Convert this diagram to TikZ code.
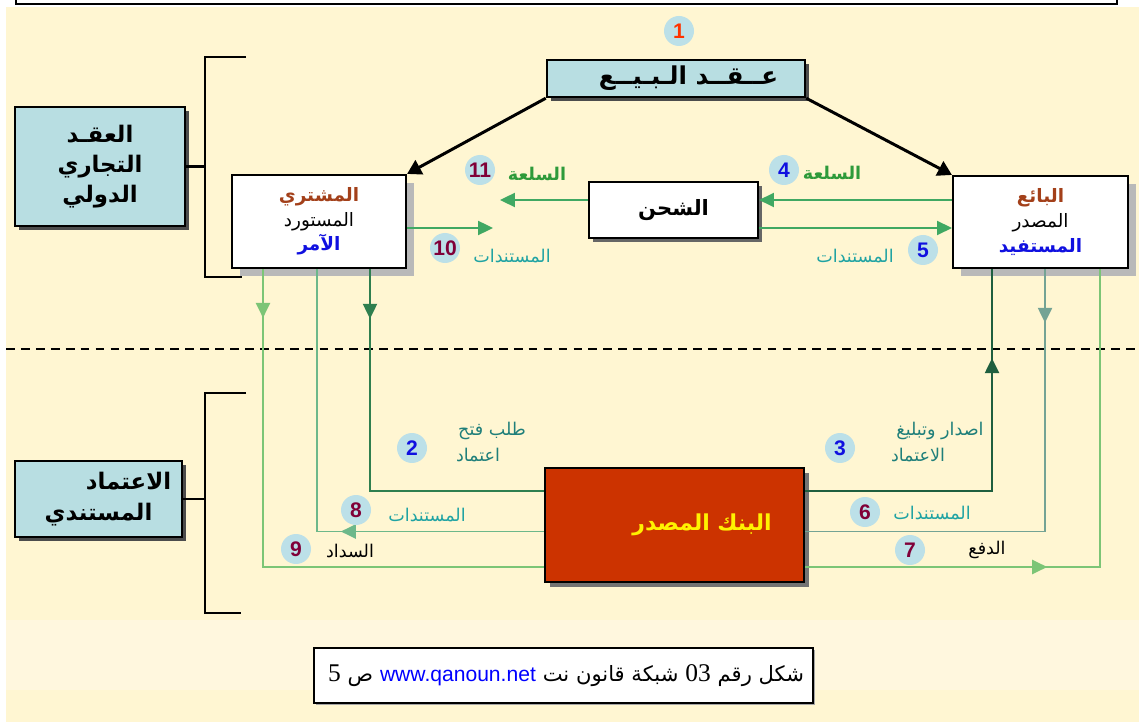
\documentclass[tikz,border=0pt]{standalone}
\usepackage{fontspec}
\usetikzlibrary{arrows.meta,decorations.markings,shadows}
\TeXXeTstate=1
\newfontfamily\arfont[Script=Arabic]{DejaVu Sans}
\newfontfamily\numfont{Liberation Sans}
\newfontfamily\serfont{Liberation Serif}
% right-to-left Arabic run
\newcommand\artxt[1]{{\arfont\beginR#1\endR}}

\definecolor{cream}{HTML}{FFF6D2}
\definecolor{creamlight}{HTML}{FFF7DE}
\definecolor{panelblue}{HTML}{B8DEE2}
\definecolor{discblue}{HTML}{BCE0E8}
\definecolor{bankred}{HTML}{CC3300}
\definecolor{brownlbl}{HTML}{A3401A}
\definecolor{goodsgreen}{HTML}{2E9A3A}
\definecolor{docteal}{HTML}{1FA3A3}
\definecolor{reqteal}{HTML}{1F7F7A}
\definecolor{numred}{HTML}{FF3300}
\definecolor{numblue}{HTML}{1010E0}
\definecolor{nummaroon}{HTML}{800038}
\definecolor{lineup}{HTML}{40A862}
\definecolor{lightlane}{HTML}{7CC576}
\definecolor{midlane}{HTML}{6DB88A}
\definecolor{darklane}{HTML}{2F7F4F}
\definecolor{darkerlane}{HTML}{1F5F3F}
\definecolor{greylane}{HTML}{74A394}

\tikzset{
  gtip/.tip={Triangle[length=8.5pt,width=8pt]},
  btip/.tip={Triangle[length=8pt,width=9pt]},
  panel/.style={draw=black,line width=1.4pt,fill=panelblue,inner sep=0pt,
    drop shadow={fill=black!70,opacity=1,shadow xshift=2.5pt,shadow yshift=-2.5pt}},
  partybox/.style={draw=black,line width=1.2pt,fill=white,inner sep=0pt,
    drop shadow={fill=gray!55,opacity=1,shadow xshift=4.5pt,shadow yshift=-4.5pt}},
  shipbox/.style={draw=black,line width=1.2pt,fill=white,inner sep=0pt,
    drop shadow={fill=black!60,opacity=1,shadow xshift=2.5pt,shadow yshift=-2.5pt}},
  bankbox/.style={draw=black,line width=1.2pt,fill=bankred,inner sep=0pt,
    drop shadow={fill=black!55,opacity=1,shadow xshift=3pt,shadow yshift=-3pt}},
  disc/.style={circle,fill=discblue,minimum size=0.6cm,inner sep=0pt,
    font=\numfont\bfseries\fontsize{12}{12}\selectfont},
  lbl/.style={inner sep=0pt,font=\fontsize{10}{12}\selectfont},
  bracketline/.style={line width=1.7pt,black},
  flow/.style={line width=1.1pt},
  contractarrow/.style={line width=1.7pt,black,-{btip}},
  midtip/.style args={#1 at #2}{postaction={decorate},
    decoration={markings,mark=at position #2 with {\arrow{#1}}}},
}

\begin{document}
\begin{tikzpicture}[x=0.02cm,y=-0.02cm]
\useasboundingbox (0,0) rectangle (1139,722);
\clip (0,0) rectangle (1139,722);

% page background
\fill[white] (0,0) rectangle (1139,722);
\fill[cream] (6,7) rectangle (1139,722);
\fill[creamlight] (6,620) rectangle (1139,690);
\draw[black,line width=0.9pt,fill=white] (16,-10) rectangle (1117,4);

% dashed separator between the two levels
\coordinate (sepL) at (6,349);
\coordinate (sepR) at (1139,349);
\draw[black,line width=1.3pt,dash pattern=on 5pt off 3.5pt] (sepL) -- (sepR);

% boxes
\node[panel,minimum width=170*0.02cm,minimum height=119*0.02cm,
  align=center,font=\bfseries\fontsize{13}{17}\selectfont] (treaty) at (100,166.5)
  {\artxt{العقـد}\\\artxt{التجاري}\\\artxt{الدولي}};
\node[panel,minimum width=167*0.02cm,minimum height=76*0.02cm,
  align=center,font=\bfseries\fontsize{13}{18}\selectfont] (credit) at (98.5,499)
  {\hspace*{1.2cm}\artxt{الاعتماد}\\\artxt{المستندي}};
\node[panel,minimum width=258*0.02cm,minimum height=37*0.02cm,
  font=\bfseries\fontsize{14}{14}\selectfont] (contract) at (676,78.5)
  {\hspace*{0.5cm}\artxt{عــقــد الـبـيــع}};
\node[partybox,minimum width=174*0.02cm,minimum height=93*0.02cm,
  align=center,font=\fontsize{10.5}{14}\selectfont] (buyer) at (319,221.5)
  {\textcolor{brownlbl}{\bfseries\artxt{المشتري}}\\\artxt{المستورد}\\\textcolor{numblue}{\bfseries\artxt{الآمر}}};
\node[partybox,minimum width=175*0.02cm,minimum height=92*0.02cm,
  align=center,font=\fontsize{10.5}{14}\selectfont] (seller) at (1040.5,222)
  {\textcolor{brownlbl}{\bfseries\artxt{البائع}}\\\artxt{المصدر}\\\textcolor{numblue}{\bfseries\artxt{المستفيد}}};
\node[shipbox,minimum width=169*0.02cm,minimum height=56*0.02cm,
  font=\bfseries\fontsize{12}{12}\selectfont] (ship) at (673.5,210)
  {\artxt{الشحن}};
\node[bankbox,minimum width=259*0.02cm,minimum height=114*0.02cm,
  font=\bfseries\fontsize{12.5}{12.5}\selectfont,text=yellow] (bank) at (674.5,525)
  {\hspace*{1.1cm}\artxt{البنك المصدر}};
% caption: pieces set left to right so the mixed-direction line reads correctly
\node[draw=black,line width=0.9pt,fill=white,inner sep=0pt,
  minimum width=499*0.02cm,minimum height=55*0.02cm,
  drop shadow={fill=black!35,opacity=1,shadow xshift=1pt,shadow yshift=-1pt},
  font=\fontsize{12}{14}\selectfont] (caption) at (563.5,675.5)
  {\hspace*{0.1cm}{\serfont\fontsize{14.5}{14.5}\selectfont 5}\ \artxt{ص}\ \textcolor{blue}{\numfont www.qanoun.net}\ \artxt{شبكة قانون نت}\ {\serfont\fontsize{14.5}{14.5}\selectfont 03}\ \artxt{شكل رقم}};

% brackets grouping the two levels
\coordinate (brA1) at (246,57);  \coordinate (brA2) at (205,57);
\coordinate (brA3) at (205,277); \coordinate (brA4) at (242,277);
\coordinate (brB1) at (246,393); \coordinate (brB2) at (205,393);
\coordinate (brB3) at (205,613); \coordinate (brB4) at (241,613);
\draw[bracketline] (brA1) -- (brA2) -- (brA3) -- (brA4);
\draw[bracketline] (brB1) -- (brB2) -- (brB3) -- (brB4);
\draw[bracketline] (treaty.east) -- (treaty.east -| brA2);
\draw[bracketline] (credit.east) -- (credit.east -| brB2);

% sales contract binds both parties
\draw[contractarrow] (contract.south west) -- (buyer.north east);
\draw[contractarrow] (contract.south east) -- (seller.north west);

% goods and documents between the parties
\coordinate (rowGoods) at (0,200);
\coordinate (rowDocs) at (0,228);
\coordinate (goodsEnd) at (500,200);
\coordinate (docsEnd) at (493,228);
\draw[flow,lineup,-{gtip}] (seller.west |- rowGoods) -- (ship.east |- rowGoods);
\draw[flow,lineup,-{gtip}] (ship.west |- rowGoods) -- (goodsEnd);
\draw[flow,lineup,-{gtip}] (buyer.east |- rowDocs) -- (docsEnd);
\draw[flow,lineup,-{gtip}] (ship.east |- rowDocs) -- (seller.west |- rowDocs);

% lanes between the parties and the issuing bank
\coordinate (laneRepay) at (263,0);
\coordinate (laneDocsB) at (317,0);
\coordinate (laneReq) at (370,0);
\coordinate (laneIssue) at (992,0);
\coordinate (laneDocsS) at (1045,0);
\coordinate (lanePay) at (1100,0);
\coordinate (rowReq) at (0,491);
\coordinate (rowBankDocs) at (0,531.5);
\coordinate (rowPay) at (0,567);

\draw[flow,lightlane,midtip={gtip} at 27.8pt]
  (buyer.south -| laneRepay) |- (bank.west |- rowPay);
\draw[flow,midlane,midtip={gtip} at 115.6pt]
  (bank.west |- rowBankDocs) -| (buyer.south -| laneDocsB);
\draw[flow,darklane,midtip={gtip} at 28.3pt]
  (buyer.south -| laneReq) |- (bank.west |- rowReq);
\draw[flow,darkerlane,midtip={gtip} at 182pt]
  (bank.east |- rowReq) -| (seller.south -| laneIssue);
\draw[flow,greylane,midtip={gtip} at 30.6pt]
  (seller.south -| laneDocsS) |- (bank.east |- rowBankDocs);
\draw[flow,lightlane,midtip={gtip} at 137.8pt]
  (bank.east |- rowPay) -| (seller.south -| lanePay);

% numbered steps
\node[disc,text=numred] (n1) at (679,31) {1};
\node[disc,text=numblue] (n2) at (412,448) {2};
\node[disc,text=numblue] (n3) at (840,448) {3};
\node[disc,text=numblue] (n4) at (784,170) {4};
\node[disc,text=numblue] (n5) at (923,250) {5};
\node[disc,text=nummaroon] (n6) at (865,512) {6};
\node[disc,text=nummaroon] (n7) at (910,550) {7};
\node[disc,text=nummaroon] (n8) at (356,510) {8};
\node[disc,text=nummaroon] (n9) at (296,549) {9};
\node[disc,text=nummaroon] (n10) at (445,248) {10};
\node[disc,text=nummaroon] (n11) at (480,170) {11};

% step captions
\node[lbl,text=goodsgreen,font=\bfseries\fontsize{10}{12}\selectfont] (t11) at (537,174) {\artxt{السلعة}};
\node[lbl,text=goodsgreen,font=\bfseries\fontsize{10}{12}\selectfont] (t4) at (832,173) {\artxt{السلعة}};
\node[lbl,text=docteal] (t10) at (512,256) {\artxt{المستندات}};
\node[lbl,text=docteal] (t5) at (855,256) {\artxt{المستندات}};
\node[lbl,text=reqteal] (t2a) at (492,431) {\artxt{طلب فتح}};
\node[lbl,text=reqteal] (t2b) at (478,455) {\artxt{اعتماد}};
\node[lbl,text=reqteal] (t3a) at (940,431) {\artxt{اصدار وتبليغ}};
\node[lbl,text=reqteal] (t3b) at (918,455) {\artxt{الاعتماد}};
\node[lbl,text=docteal] (t6) at (932,513) {\artxt{المستندات}};
\node[lbl,text=black] (t7) at (987,550) {\artxt{الدفع}};
\node[lbl,text=docteal] (t8) at (427,515) {\artxt{المستندات}};
\node[lbl,text=black] (t9) at (350,551) {\artxt{السداد}};
\end{tikzpicture}
\end{document}
